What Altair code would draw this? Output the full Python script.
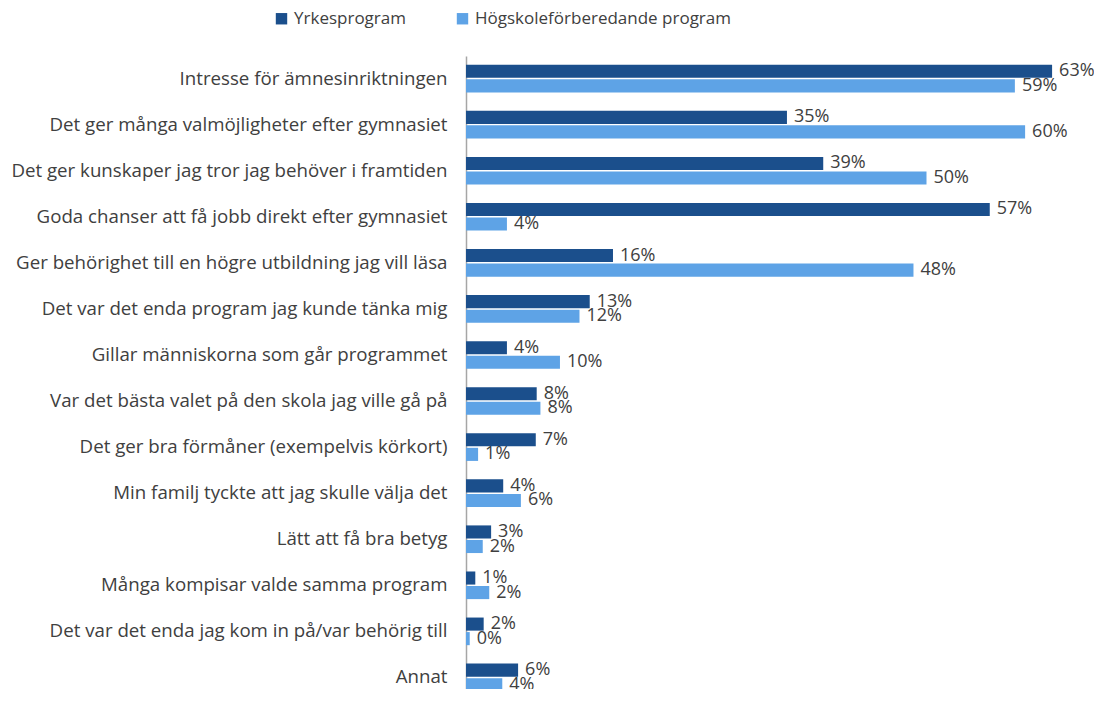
import altair as alt
import pandas as pd

categories = [
    "Intresse för ämnesinriktningen",
    "Det ger många valmöjligheter efter gymnasiet",
    "Det ger kunskaper jag tror jag behöver i framtiden",
    "Goda chanser att få jobb direkt efter gymnasiet",
    "Ger behörighet till en högre utbildning jag vill läsa",
    "Det var det enda program jag kunde tänka mig",
    "Gillar människorna som går programmet",
    "Var det bästa valet på den skola jag ville gå på",
    "Det ger bra förmåner (exempelvis körkort)",
    "Min familj tyckte att jag skulle välja det",
    "Lätt att få bra betyg",
    "Många kompisar valde samma program",
    "Det var det enda jag kom in på/var behörig till",
    "Annat",
]
series = ["Yrkesprogram", "Högskoleförberedande program"]

yrkes_values = [63.0, 34.5, 38.4, 56.3, 15.8, 13.3, 4.4, 7.6, 7.5, 4.0, 2.7, 1.0, 1.9, 5.6]
hogsk_values = [59.0, 60.1, 49.5, 4.4, 48.1, 12.2, 10.1, 8.0, 1.3, 5.9, 1.8, 2.5, 0.4, 3.9]
yrkes_labels = ["63%", "35%", "39%", "57%", "16%", "13%", "4%", "8%", "7%", "4%", "3%", "1%", "2%", "6%"]
hogsk_labels = ["59%", "60%", "50%", "4%", "48%", "12%", "10%", "8%", "1%", "6%", "2%", "2%", "0%", "4%"]
colors = ["#1B4F8C", "#5EA3E6"]

rows = []
for c, v, l in zip(categories, yrkes_values, yrkes_labels):
    rows.append({"category": c, "series": series[0], "value": v, "label": l})
for c, v, l in zip(categories, hogsk_values, hogsk_labels):
    rows.append({"category": c, "series": series[1], "value": v, "label": l})
df = pd.DataFrame(rows)

FONT = "Open Sans"
TXT = "#404040"

y_enc = alt.Y(
    "category:N",
    sort=categories,
    scale=alt.Scale(range=[0, 644], paddingInner=0.4, paddingOuter=0.19),
    axis=alt.Axis(
        title=None,
        ticks=False,
        labelFontSize=18.7,
        labelColor=TXT,
        labelFont=FONT,
        labelPadding=19,
        labelLimit=480,
        domainColor="#A6A6A6",
        domainWidth=1.5,
        grid=False,
    ),
)
yoff = alt.YOffset("series:N", sort=series, scale=alt.Scale(paddingInner=0.1))
x_enc = alt.X("value:Q", scale=alt.Scale(domain=[0, 66], nice=False, zero=True), axis=None)

base = alt.Chart(df)

bars = base.mark_bar().encode(
    y=y_enc,
    yOffset=yoff,
    x=x_enc,
    color=alt.Color(
        "series:N",
        sort=series,
        scale=alt.Scale(domain=series, range=colors),
        legend=alt.Legend(
            title=None,
            orient="none",
            legendX=-193,
            legendY=-46,
            direction="horizontal",
            symbolType="square",
            symbolSize=130,
            symbolStrokeWidth=0,
            labelFontSize=17,
            labelFont=FONT,
            labelColor=TXT,
            labelLimit=400,
            columnPadding=48,
        ),
    ),
)

labels = base.mark_text(
    align="left", baseline="middle", dx=7, fontSize=18, font=FONT, color=TXT
).encode(
    y=alt.Y("category:N", sort=categories),
    yOffset=alt.YOffset("series:N", sort=series),
    x=alt.X("value:Q"),
    text="label:N",
)

chart = (
    alt.layer(bars, labels)
    .properties(
        width=614,
        height=633,
        autosize=alt.AutoSizeParams(type="none"),
        padding={"left": 458, "top": 48, "right": 14, "bottom": 0},
    )
    .configure(font=FONT)
    .configure_view(strokeWidth=0, stroke="transparent")
)

chart.save("out.html", embed_options={"renderer": "svg", "actions": False})
